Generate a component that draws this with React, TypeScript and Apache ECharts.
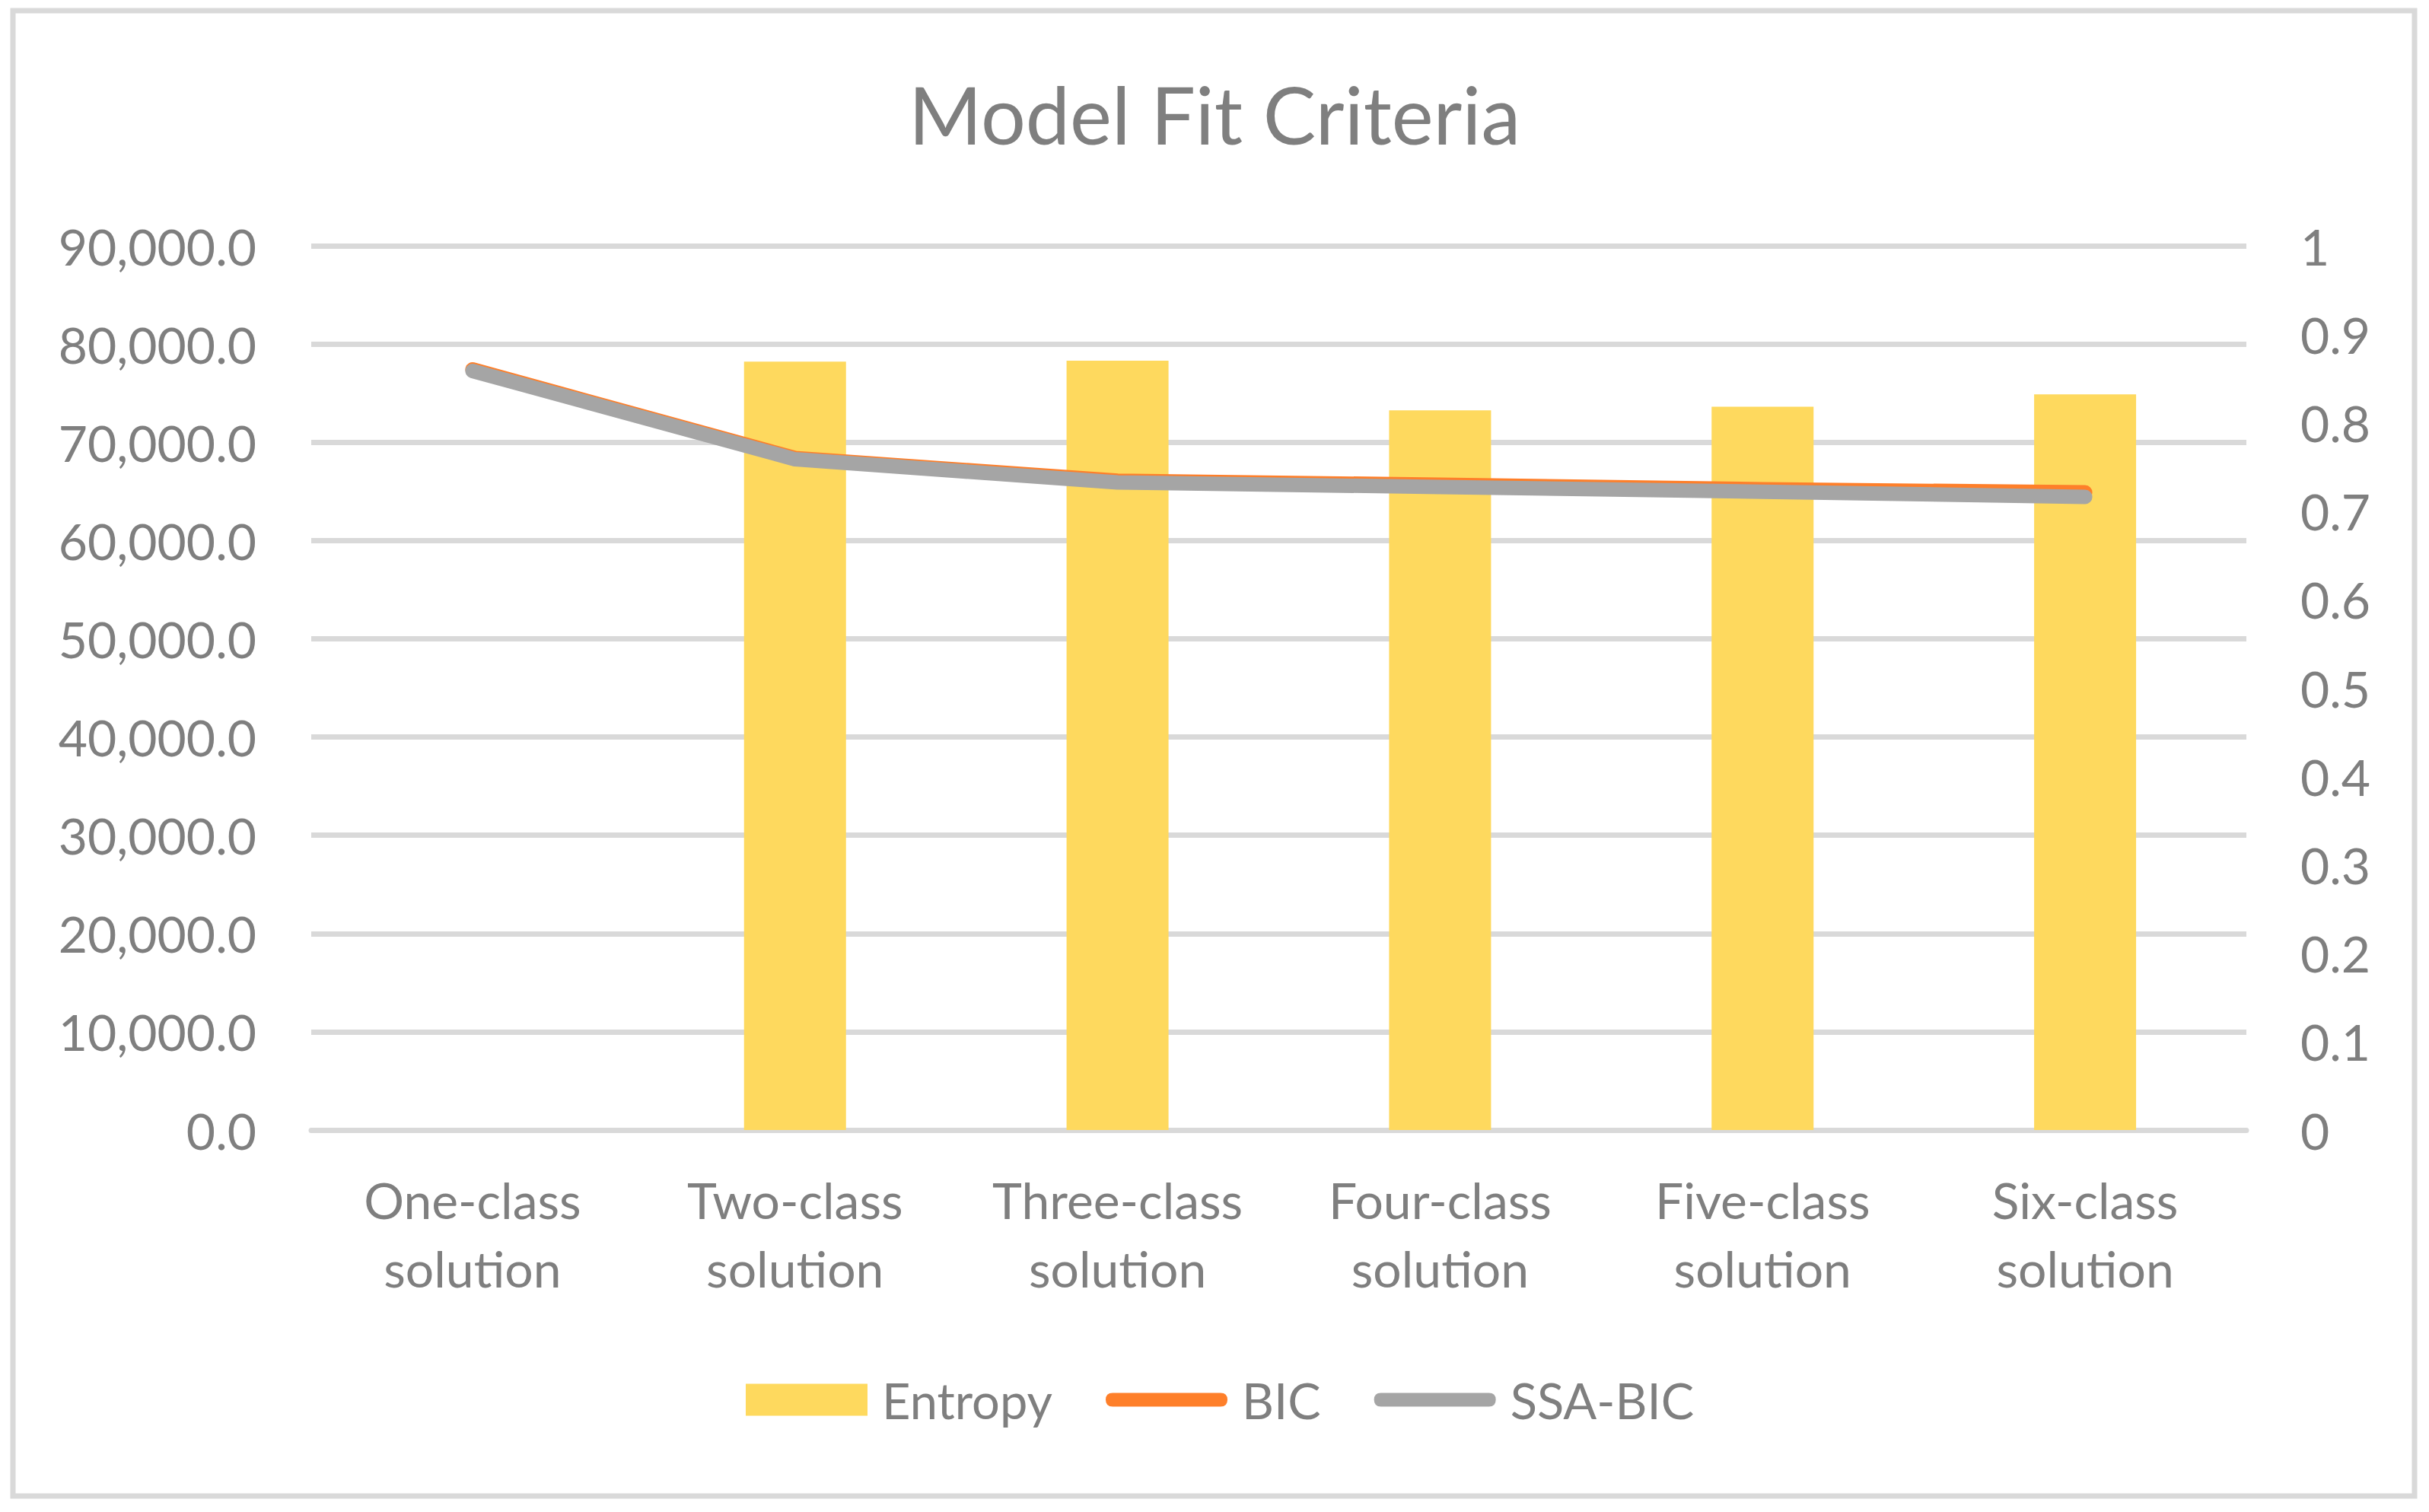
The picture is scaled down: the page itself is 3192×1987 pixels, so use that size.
import React, { useEffect, useRef } from "react";
import * as echarts from "echarts";

const categories = [
  "One-class\nsolution",
  "Two-class\nsolution",
  "Three-class\nsolution",
  "Four-class\nsolution",
  "Five-class\nsolution",
  "Six-class\nsolution",
];
const entropy: (number | null)[] = [null, 0.869, 0.870, 0.814, 0.818, 0.832];
const bic = [77420, 68390, 66080, 65680, 65220, 64900];
const ssaBic = [77260, 68270, 65910, 65450, 64960, 64440];
const titleText = "Model Fit Criteria";

const FONT = "Lato";
const TXT = "#7F7F7F";
const GRID = "#D9D9D9";
const LINE_ICON =
  "path://M10,0 L167,0 Q177,0 177,10 Q177,20 167,20 L10,20 Q0,20 0,10 Q0,0 10,0 Z";

export default function App() {
  const ref = useRef<HTMLDivElement>(null);
  useEffect(() => {
    if (!ref.current) return;
    const chart = echarts.init(ref.current, null, { renderer: "svg" });
    chart.setOption({
      animation: false,
      backgroundColor: "#FFFFFF",
      textStyle: { fontFamily: FONT },
      title: {
        text: titleText,
        left: "center",
        top: 92,
        textStyle: { fontFamily: FONT, fontSize: 104, fontWeight: "normal", color: TXT },
      },
      graphic: [
        {
          type: "rect",
          shape: { x: 17, y: 14, width: 3156, height: 1952 },
          style: { fill: "none", stroke: GRID, lineWidth: 7 },
          silent: true,
          z: -1,
        },
      ],
      legend: {
        left: 975,
        top: 1802,
        itemWidth: 160,
        itemHeight: 42,
        itemGap: 70,
        symbolKeepAspect: true,
        textStyle: { fontFamily: FONT, fontSize: 65, color: TXT, padding: [0, 0, 0, 14] },
        data: [
          { name: "Entropy", icon: "rect" },
          { name: "BIC", icon: LINE_ICON, itemStyle: { color: "#FE7F2A" } },
          { name: "SSA-BIC", icon: LINE_ICON, itemStyle: { color: "#A5A5A5" } },
        ],
      },
      grid: { left: 409, right: 240, top: 323, bottom: 502, containLabel: false },
      xAxis: {
        type: "category",
        data: categories,
        boundaryGap: true,
        axisLine: { show: true, lineStyle: { color: GRID, width: 7 } },
        axisTick: { show: false },
        axisLabel: {
          interval: 0,
          margin: 46,
          fontFamily: FONT,
          fontSize: 66,
          lineHeight: 90,
          color: TXT,
        },
      },
      yAxis: [
        {
          type: "value",
          min: 0,
          max: 90000,
          interval: 10000,
          axisLine: { show: false },
          axisTick: { show: false },
          splitLine: { show: true, lineStyle: { color: GRID, width: 7 } },
          axisLabel: {
            margin: 72,
            fontFamily: FONT,
            fontSize: 66,
            color: TXT,
            formatter: (v: number) =>
              v.toLocaleString("en-US", { minimumFractionDigits: 1, maximumFractionDigits: 1 }),
          },
        },
        {
          type: "value",
          min: 0,
          max: 1,
          interval: 0.1,
          position: "right",
          axisLine: { show: false },
          axisTick: { show: false },
          splitLine: { show: false },
          axisLabel: {
            margin: 71,
            align: "left",
            fontFamily: FONT,
            fontSize: 66,
            color: TXT,
            formatter: (v: number) => String(parseFloat(v.toFixed(1))),
          },
        },
      ],
      series: [
        {
          name: "Entropy",
          type: "bar",
          yAxisIndex: 1,
          data: entropy,
          barWidth: 134,
          itemStyle: { color: "#FED95E" },
        },
        {
          name: "BIC",
          type: "line",
          yAxisIndex: 0,
          data: bic,
          symbol: "none",
          lineStyle: { color: "#FE7F2A", width: 19, cap: "round", join: "round" },
          itemStyle: { color: "#FE7F2A" },
          z: 3,
        },
        {
          name: "SSA-BIC",
          type: "line",
          yAxisIndex: 0,
          data: ssaBic,
          symbol: "none",
          lineStyle: { color: "#A5A5A5", width: 19, cap: "round", join: "round" },
          itemStyle: { color: "#A5A5A5" },
          z: 4,
        },
      ],
    });
    return () => chart.dispose();
  }, []);
  return (
    <div
      ref={ref}
      style={{ position: "fixed", left: 0, top: 0, width: 3192, height: 1987 }}
    />
  );
}
